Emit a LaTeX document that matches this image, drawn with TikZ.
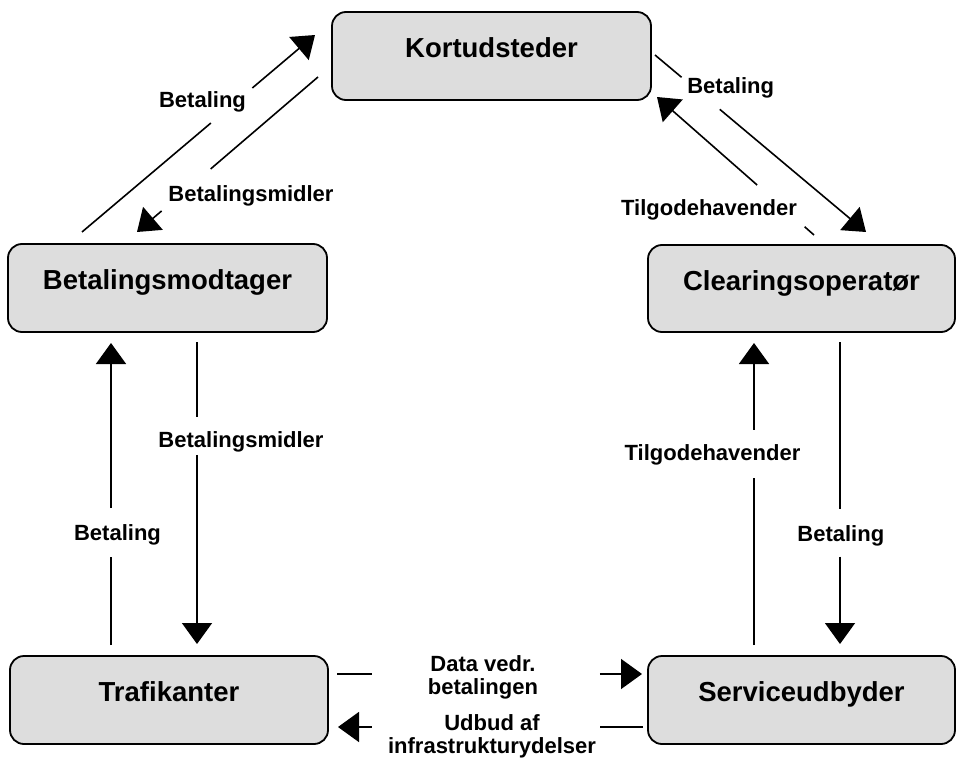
\documentclass[tikz,border=0pt]{standalone}
\usepackage{fontspec}
\setmainfont{Liberation Sans}
\usetikzlibrary{arrows.meta,calc}
\definecolor{boxfill}{RGB}{221,221,221}
\tikzset{
  actor/.style={draw=black, line width=1.8pt, fill=boxfill, rounded corners=14pt,
    inner sep=0pt, text height=20pt, text depth=16.6pt,
    font=\fontsize{27.5}{30}\selectfont\bfseries},
  lbl/.style={inner sep=0pt, font=\fontsize{22}{23}\selectfont\bfseries},
  conn/.style={line width=1.6pt, line cap=butt},
  tip/.style={-{Triangle[length=21pt,width=30pt]}}
}
\newcommand\gapline[4]{%
  \draw[conn] (#1) -- ($(#1)!#3!(#2)$);
  \draw[conn,tip] ($(#1)!#4!(#2)$) -- (#2);}
\begin{document}
\begin{tikzpicture}[x=1pt,y=-1pt]
\useasboundingbox[fill=white] (0,0) rectangle (956,765);

% boxes
\node[actor, minimum width=319pt, minimum height=88pt] (K) at (491.5,56) {Kortudsteder};
\node[actor, minimum width=319pt, minimum height=88pt] (B) at (167.5,288) {Betalingsmodtager};
\node[actor, minimum width=307pt, minimum height=87pt] (C) at (801.5,288.5) {Clearingsoperatør};
\node[actor, minimum width=318pt, minimum height=88pt] (T) at (169,700) {Trafikanter};
\node[actor, minimum width=307pt, minimum height=88pt] (S) at (801.5,700) {Serviceudbyder};

% connector end points
\coordinate (c1s) at (82,232);  \coordinate (c1e) at (315,35);
\coordinate (c2s) at (318,77);  \coordinate (c2e) at (137,232);
\coordinate (c3s) at (655,55);  \coordinate (c3e) at (866,232);
\coordinate (c4s) at (814,235); \coordinate (c4e) at (657,97);
\coordinate (c5s) at (111,645); \coordinate (c5e) at (111,343);
\coordinate (c6s) at (197,342); \coordinate (c6e) at (197,644);
\coordinate (c7s) at (754,645); \coordinate (c7e) at (754,343);
\coordinate (c8s) at (840,342); \coordinate (c8e) at (840,644);
\coordinate (c9s) at (337,674); \coordinate (c9e) at (642,674);
\coordinate (c10s) at (643,727); \coordinate (c10e) at (338,727);

% connectors (with gaps for labels)
\gapline{c1s}{c1e}{0.553}{0.731}
\gapline{c2s}{c2e}{0.593}{0.864}
\gapline{c3s}{c3e}{0.126}{0.307}
\gapline{c4s}{c4e}{0.06}{0.362}
\gapline{c5s}{c5e}{0.292}{0.453}
\gapline{c6s}{c6e}{0.249}{0.374}
\gapline{c7s}{c7e}{0.552}{0.712}
\gapline{c8s}{c8e}{0.553}{0.711}
\gapline{c9s}{c9e}{0.115}{0.862}
\gapline{c10s}{c10e}{0.141}{0.889}

% labels
\node[lbl, anchor=base] (l1) at (202.5,107.3) {Betaling};
\node[lbl, anchor=base] (l2) at (251,201.7) {Betalingsmidler};
\node[lbl, anchor=base] (l3) at (730.7,93.3) {Betaling};
\node[lbl, anchor=base] (l4) at (709,215) {Tilgodehavender};
\node[lbl, anchor=base] (l5) at (117.5,540) {Betaling};
\node[lbl, anchor=base] (l6) at (241,447) {Betalingsmidler};
\node[lbl, anchor=base] (l7) at (712.5,460.7) {Tilgodehavender};
\node[lbl, anchor=base] (l8) at (840.8,541.7) {Betaling};
\node[lbl, anchor=north, align=center] (l9) at (483,655.7) {Data vedr.\\betalingen};
\node[lbl, anchor=north, align=center] (l10) at (492,714.7) {Udbud af\\infrastrukturydelser};
\end{tikzpicture}
\end{document}
